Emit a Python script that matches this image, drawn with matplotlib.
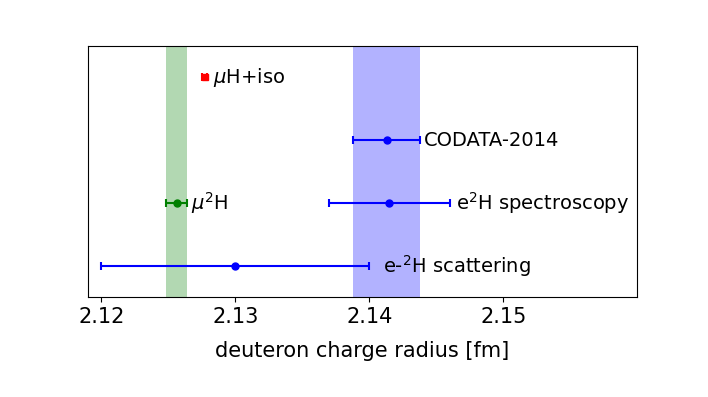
import numpy as np
import matplotlib
matplotlib.use('Agg')
import matplotlib.pyplot as plt

# deuteron charge radius determinations [fm]
labels = [r'$\mu$H+iso', 'CODATA-2014', r'e$^2$H spectroscopy', r'$\mu^2$H', r'e-$^2$H scattering']
radius = [2.12771, 2.14130, 2.14150, 2.12562, 2.13000]
err = [0.00022, 0.00250, 0.00450, 0.00078, 0.01000]
row = [4, 3, 2, 2, 1]
colors = ['red', 'blue', 'blue', 'green', 'blue']
markers = ['s', 'o', 'o', 'o', 'o']
label_gap = [0.0004, 0.0003, 0.0005, 0.0003, 0.001]

fig = plt.figure(figsize=(7.08, 3.97), dpi=100)
ax = fig.add_axes([0.124, 0.252, 0.776, 0.632])

# bands for muonic deuterium and CODATA
ax.axvspan(radius[3] - err[3], radius[3] + err[3], color='green', alpha=0.3, lw=0)
ax.axvspan(radius[1] - err[1], radius[1] + err[1], color='blue', alpha=0.3, lw=0)

for i in range(len(labels)):
    ax.errorbar(radius[i], row[i], xerr=err[i], fmt=markers[i], color=colors[i],
                ms=5, capsize=3, elinewidth=1.5, capthick=1.5)
    ax.text(radius[i] + err[i] + label_gap[i], row[i], labels[i],
            va='center', ha='left', fontsize=14)

ax.set_xlim(2.119, 2.16)
ax.set_ylim(0.5, 4.5)
ax.set_yticks([])
ax.set_xticks([2.12, 2.13, 2.14, 2.15])
ax.tick_params(axis='x', labelsize=15)
ax.set_xlabel('deuteron charge radius [fm]', fontsize=15, labelpad=10)

plt.savefig('out.png', dpi=100)
plt.close()
